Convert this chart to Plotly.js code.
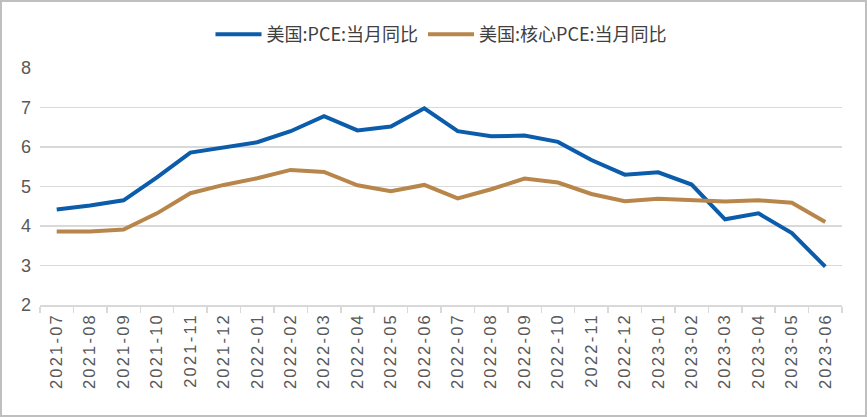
<!DOCTYPE html>
<html>
<head>
<meta charset="utf-8">
<script src="https://cdn.plot.ly/plotly-3.0.1.min.js"></script>
<style>
html,body{margin:0;padding:0;background:#fff;}
#wrap{position:relative;width:867px;height:417px;}
#chart{position:absolute;left:0;top:0;width:867px;height:417px;}
#frame{position:absolute;left:0;top:0;width:867px;height:417px;box-sizing:border-box;border:2px solid #bfbfbf;pointer-events:none;}
.xtick text{letter-spacing:2.2px;}
</style>
</head>
<body>
<div id="wrap"><div id="chart"></div><div id="frame"></div></div>
<script>
const categories = ["2021-07","2021-08","2021-09","2021-10","2021-11","2021-12","2022-01","2022-02","2022-03","2022-04","2022-05","2022-06","2022-07","2022-08","2022-09","2022-10","2022-11","2022-12","2023-01","2023-02","2023-03","2023-04","2023-05","2023-06"];
const pce = [4.42,4.52,4.65,5.23,5.86,5.98,6.12,6.40,6.78,6.42,6.52,6.98,6.40,6.27,6.29,6.13,5.67,5.30,5.36,5.05,4.17,4.32,3.82,2.97];
const corePce = [3.86,3.86,3.91,4.32,4.83,5.04,5.21,5.42,5.37,5.03,4.88,5.04,4.70,4.93,5.20,5.10,4.81,4.63,4.69,4.66,4.62,4.65,4.59,4.10];
const seriesNames = ["美国:PCE:当月同比","美国:核心PCE:当月同比"];
const yTicks = [2,3,4,5,6,7,8];

const traces = [
  {x: categories, y: pce, name: seriesNames[0], type: "scatter", mode: "lines",
   line: {color: "#0b5cab", width: 4}},
  {x: categories, y: corePce, name: seriesNames[1], type: "scatter", mode: "lines",
   line: {color: "#b8864b", width: 4}}
];

const layout = {
  width: 867, height: 417,
  margin: {l: 40, r: 25, t: 68, b: 112},
  paper_bgcolor: "#ffffff", plot_bgcolor: "#ffffff",
  showlegend: true,
  legend: {orientation: "h", x: 0.5, xanchor: "center", y: 1 - 16/417, yref: "container", yanchor: "top",
    font: {family: "Noto Sans CJK SC, sans-serif", size: 18, color: "#404040"},
    itemwidth: 46, tracegroupgap: 0, traceorder: "normal"},
  xaxis: {type: "category", tickson: "boundaries", ticks: "outside", ticklen: 6, tickcolor: "#d9d9d9",
    tickwidth: 1.5, showline: true, linecolor: "#d9d9d9", linewidth: 1.5, showgrid: false,
    tickangle: -90, tickfont: {family: "Liberation Sans, Arial, sans-serif", size: 16.5, color: "#595959"},
    range: [-0.5, categories.length - 0.5], fixedrange: true},
  yaxis: {range: [2, 8], tickvals: yTicks, ticktext: yTicks.map(String), showgrid: true,
    gridcolor: "#d9d9d9", gridwidth: 1.5, zeroline: false, showline: false, ticks: "",
    ticklabelstandoff: 8,
    tickfont: {family: "Liberation Sans, Arial, sans-serif", size: 18, color: "#595959"}, fixedrange: true}
};

Plotly.newPlot("chart", traces, layout, {displayModeBar: false, staticPlot: true});
</script>
</body>
</html>
